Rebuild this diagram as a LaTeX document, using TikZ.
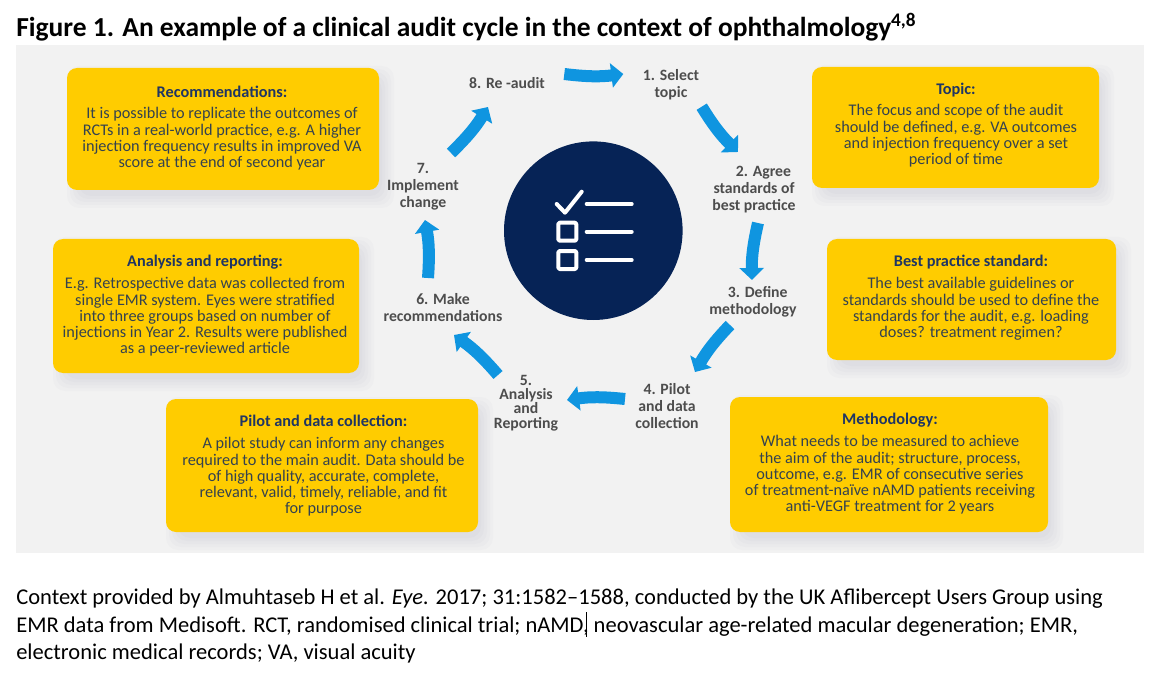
\documentclass[tikz,border=0pt]{standalone}
\usepackage{fontspec}
\setmainfont{Carlito}
\usetikzlibrary{arrows.meta}
\definecolor{panel}{HTML}{F2F2F2}
\definecolor{amber}{HTML}{FFCC00}
\definecolor{navy}{HTML}{062356}
\definecolor{flow}{HTML}{0F95E0}
\definecolor{boxink}{HTML}{34424F}
\definecolor{boxhead}{HTML}{1F3564}
\definecolor{steplabel}{HTML}{4D4D4D}
\newcommand{\boxhd}[1]{{\bfseries\color{boxhead}#1}\\[4.2pt]}
\tikzset{
  x=0.75pt,y=-0.75pt,
  ambox/.style={fill=amber,draw=none,rounded corners=7.5pt,inner sep=0pt},
  boxtext/.style={align=center,inner sep=0pt,text=boxink,font=\fontsize{12.2}{12.2}\selectfont},
  steptext/.style={align=center,inner sep=0pt,text=steplabel,font=\bfseries\fontsize{11.8}{12.8}\selectfont},
  flowarrow/.style={draw=flow,line width=9pt,-{Triangle[width=18pt,length=9pt]}},
  iconline/.style={draw=white,line width=3pt,line cap=round,line join=round},
}
\newcommand{\ambox}[5]{% name, x0, y0, x1, y1
  \foreach \g in {14,11,8,5,2}{
    \fill[black!70!blue,opacity=0.014,rounded corners=9pt] (#2+14-\g,#3+12-\g) rectangle (#4+1+\g,#5+4+\g);
  }
  \path[ambox] (#2,#3) rectangle (#4,#5);
  \coordinate (#1) at ({(#2+#4)/2},{(#3+#5)/2});
}
\begin{document}
\begin{tikzpicture}
\useasboundingbox (0,0) rectangle (1164,688);
\fill[white] (0,0) rectangle (1164,688);
\fill[panel] (16,45) rectangle (1144,553);

\node[anchor=base west,inner sep=0pt,font=\bfseries\fontsize{20.6}{24}\selectfont] (title) at (16,37)
  {Figure 1. An example of a clinical audit cycle in the context of ophthalmology\textsuperscript{4,8}};

\ambox{brec}{67}{68}{379}{190}
\ambox{bana}{53}{239}{359}{373}
\ambox{bpil}{166}{399}{478}{532}
\ambox{btop}{812}{67}{1099}{188}
\ambox{bbes}{827}{239}{1116}{360}
\ambox{bmet}{730}{397}{1048}{532}

\node[boxtext] (trec) at (222,128) {\boxhd{Recommendations:}It is possible to replicate the outcomes of\\RCTs in a real-world practice, e.g. A higher\\injection frequency results in improved VA\\score at the end of second year};
\node[boxtext] (tana) at (205,306) {\boxhd{Analysis and reporting:}E.g. Retrospective data was collected from\\single EMR system. Eyes were stratified\\into three groups based on number of\\injections in Year 2. Results were published\\as a peer-reviewed article};
\node[boxtext] (tpil) at (323.5,466) {\boxhd{Pilot and data collection:}A pilot study can inform any changes\\required to the main audit. Data should be\\of high quality, accurate, complete,\\relevant, valid, timely, reliable, and fit\\for purpose};
\node[boxtext] (ttop) at (956,125) {\boxhd{Topic:}The focus and scope of the audit\\should be defined, e.g. VA outcomes\\and injection frequency over a set\\period of time};
\node[boxtext] (tbes) at (971,298) {\boxhd{Best practice standard:}The best available guidelines or\\standards should be used to define the\\standards for the audit, e.g. loading\\doses? treatment regimen?};
\node[boxtext] (tmet) at (890,464) {\boxhd{Methodology:}What needs to be measured to achieve\\the aim of the audit; structure, process,\\outcome, e.g. EMR of consecutive series\\of treatment-naïve nAMD patients receiving\\anti-VEGF treatment for 2 years};

\fill[navy] (593.3,230.7) circle[radius=89.3];
\coordinate (c1) at (556.7,204); \coordinate (c2) at (565,212.7); \coordinate (c3) at (581.7,191.7);
\draw[iconline] (c1) -- (c2) -- (c3);
\coordinate (la) at (586.7,204); \coordinate (lb) at (631.7,204);
\draw[iconline] (la) -- (lb);
\coordinate (lc) at (586.7,231.7); \coordinate (ld) at (631.7,231.7);
\draw[iconline] (lc) -- (ld);
\coordinate (le) at (586.7,260); \coordinate (lf) at (631.7,260);
\draw[iconline] (le) -- (lf);
\draw[iconline,line cap=butt,rounded corners=1pt] (558.3,222.7) rectangle (576.3,240.7);
\draw[iconline,line cap=butt,rounded corners=1pt] (558.3,251) rectangle (576.3,269);

\node[steptext] (s8) at (507,83) {8. Re -audit};
\node[steptext] (s1) at (671,85) {1. Select\\topic};
\node[steptext] (s2) at (754,190) {\hspace*{1.2em}2. Agree\\standards of\\best practice};
\node[steptext] (s3) at (753,302) {\hspace*{0.6em}3. Define\\methodology};
\node[steptext] (s4) at (667,406) {4. Pilot\\and data\\collection};
\node[steptext,font=\bfseries\fontsize{11.8}{10.8}\selectfont] (s5) at (526,403) {5.\\Analysis\\and\\Reporting};
\node[steptext] (s6) at (443,308) {6. Make\\recommendations};
\node[steptext] (s7) at (423,187) {7.\\Implement\\change};

\coordinate (a8s) at (564.3,74);  \coordinate (a8e) at (623.3,74);
\coordinate (a1s) at (701.7,106.7); \coordinate (a1e) at (738,152);
\coordinate (a2s) at (758,223);   \coordinate (a2e) at (752,280);
\coordinate (a3s) at (730,325);   \coordinate (a3e) at (695,372);
\coordinate (a4s) at (625,399);   \coordinate (a4e) at (567,400);
\coordinate (a5s) at (498,375);   \coordinate (a5e) at (454,335);
\coordinate (a6s) at (428,278);   \coordinate (a6e) at (425,220);
\coordinate (a7s) at (451,153);   \coordinate (a7e) at (488,107);
\draw[flowarrow] (a8s) to[bend right=7] (a8e);
\draw[flowarrow] (a1s) to[bend right=7] (a1e);
\draw[flowarrow] (a2s) to[bend right=7] (a2e);
\draw[flowarrow] (a3s) to[bend right=7] (a3e);
\draw[flowarrow] (a4s) to[bend right=7] (a4e);
\draw[flowarrow] (a5s) to[bend right=7] (a5e);
\draw[flowarrow] (a6s) to[bend right=7] (a6e);
\draw[flowarrow] (a7s) to[bend right=7] (a7e);

\node[anchor=north west,inner sep=0pt,align=left,font=\fontsize{16.9}{20.4}\selectfont] (cap) at (16,589)
  {Context provided by Almuhtaseb H et al. \textit{Eye.} 2017; 31:1582–1588, conducted by the UK Aflibercept Users Group using\\
   EMR data from Medisoft. RCT, randomised clinical trial; nAMD, neovascular age-related macular degeneration; EMR,\\
   electronic medical records; VA, visual acuity};
\coordinate (cur1) at (586,612); \coordinate (cur2) at (586,637);
\draw[black,line width=0.75pt] (cur1) -- (cur2);
\end{tikzpicture}
\end{document}
